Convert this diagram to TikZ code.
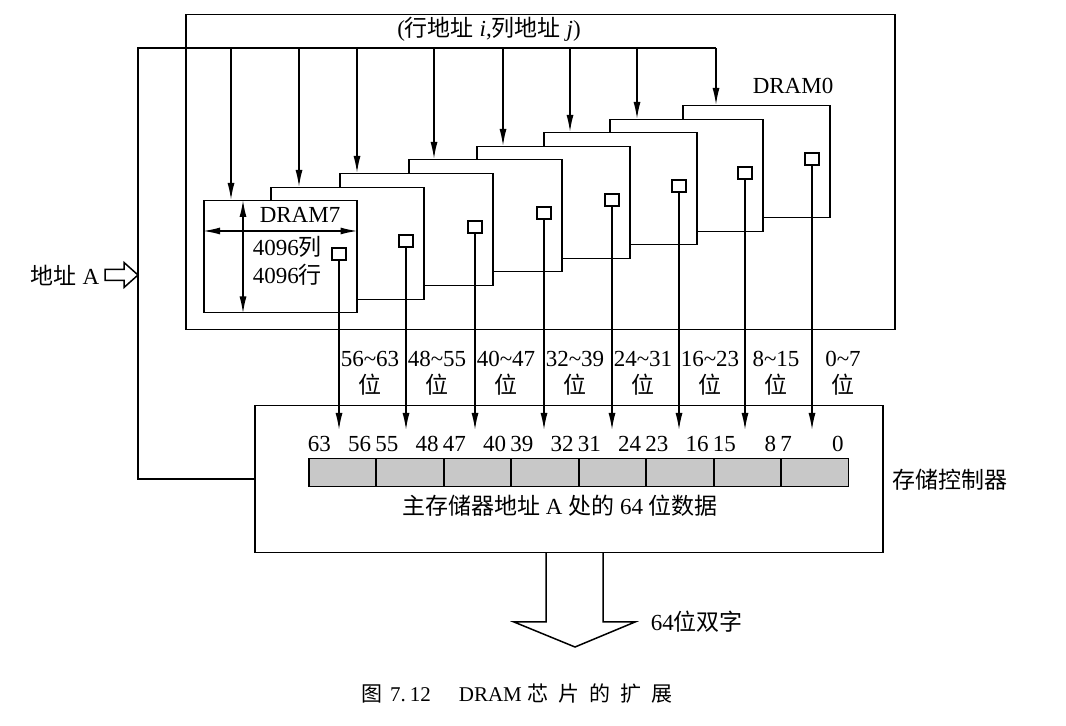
\documentclass[tikz,border=0pt]{standalone}
\usepackage{fontspec}
\setmainfont{Liberation Serif}
\newfontfamily\cjk{Noto Sans CJK SC}
\usetikzlibrary{arrows.meta}
\definecolor{cell-gray}{RGB}{200,200,200}
\tikzset{
    chip-box/.style = {draw, fill=white, rectangle, inner sep=0pt, anchor=north west, minimum height=56pt},
    pin-box/.style = {draw, fill=white, rectangle, inner sep=0pt, minimum width=7pt, minimum height=6pt},
    bit-cell/.style = {draw, fill=cell-gray, rectangle, inner sep=0pt, anchor=north west, minimum width=33.7pt, minimum height=14pt},
    frame-box/.style = {draw, rectangle, inner sep=0pt, anchor=north west},
    sig-arrow/.style = {-{Latex[length=8.5pt, width=3.5pt]}},
    both-arrow/.style = {{Latex[length=8.5pt, width=3.5pt]}-{Latex[length=8.5pt, width=3.5pt]}},
    plain-text/.style = {inner sep=0pt, font=\fontsize{11.5}{13.5}\selectfont},
}

\begin{document}
\begin{tikzpicture}[x=0.5pt, y=-0.5pt, line width=0.75pt]
\useasboundingbox (0,0) rectangle (1066,726);
\node[frame-box, minimum width=354.5pt, minimum height=157.5pt] (group) at (185,14) {};
\node[frame-box, minimum width=314pt, minimum height=73.5pt] (ctrl) at (254,405) {};
\coordinate (bus) at (138,48);
\coordinate (tip) at (0,430);
\node[plain-text] (index-label) at (489,29) {({\cjk 行地址}\ \textit{i},{\cjk 列地址}\ \textit{j})};
\foreach \k/\ax/\lx/\ty/\bw in {0/716/682/105/73.5,1/637/609/119/76.5,2/570/543/132/76.5,3/503/476/146/76.5,4/434/408/159/76.5,5/357/339/173/76.5,6/299/270/187/76.5,7/231/203/200/76.5} {
    \pgfmathtruncatemacro{\lo}{8*\k}
    \pgfmathtruncatemacro{\hi}{8*\k+7}
    \pgfmathsetmacro{\px}{\lx+2*\bw-17}
    \node[chip-box, minimum width=\bw pt] (dram\k) at (\lx,\ty) {};
    \node[pin-box] (pin\k) at (\px,\ty+54) {};
    \coordinate (tap\k) at (\ax,48);
    \draw[sig-arrow] (tap\k) -- (tap\k |- dram\k.north);
    \draw[sig-arrow] (pin\k.south) -- (pin\k.south |- tip);
    \node[plain-text, align=center] at (\px+31,373.5) {\lo\textasciitilde\hi\\{\cjk 位}};
}
\node[plain-text] (dram0-label) at (793,86) {DRAM0};
\draw[both-arrow] ([xshift=20pt]dram7.north west) -- ([xshift=20pt]dram7.south west);
\draw[both-arrow] ([yshift=-15.5pt]dram7.north west) -- ([yshift=-15.5pt]dram7.north east);
\node[plain-text, anchor=west] (dram7-label) at ([xshift=28pt, yshift=-7.5pt]dram7.north west) {DRAM7};
\node[plain-text, anchor=west] (col-label) at ([xshift=24.5pt, yshift=-23.5pt]dram7.north west) {4096{\cjk 列}};
\node[plain-text, anchor=west] (row-label) at ([xshift=24.5pt, yshift=-37.5pt]dram7.north west) {4096{\cjk 行}};
\foreach \c in {0,...,7} {
    \pgfmathtruncatemacro{\hi}{63-8*\c}
    \pgfmathtruncatemacro{\lo}{56-8*\c}
    \node[bit-cell] (cell\c) at (308+67.5*\c,458) {};
    \node[plain-text, anchor=base west] at ([xshift=-0.5pt, yshift=3pt]cell\c.north west) {\hi};
    \node[plain-text, anchor=base east] at ([xshift=-2.5pt, yshift=3pt]cell\c.north east) {\lo};
}
\node[plain-text] (word-label) at (560,506) {{\cjk 主存储器地址}~A~{\cjk 处的}~64~{\cjk 位数据}};
\node[plain-text, anchor=west] (ctrl-label) at (892,480) {\cjk 存储控制器};
\draw (ctrl.west) -| (bus) -- (tap0);
\node[plain-text, anchor=east] (addr) at (100,275) {{\cjk 地址}~A};
\draw ([xshift=2.5pt, yshift=2.75pt]addr.east) -- ++(19,0) -- ++(0,-7) -- ++(14,12.5) -- ++(-14,12.5) -- ++(0,-7) -- ++(-19,0) -- cycle;
\draw (546,552.5) -- (546,622) -- (514,622) -- (575,647) -- (635,622) -- (603,622) -- (603,552.5);
\node[plain-text, anchor=west] (out-label) at (650,622) {64{\cjk 位双字}};
\node[plain-text, font=\fontsize{10.5}{12}\selectfont] (caption) at (517,694) {{\cjk 图}\hspace{4pt}7.\hspace{2pt}12\hspace{14pt}DRAM\hspace{3pt}{\cjk 芯\hspace{5pt}片\hspace{5pt}的\hspace{5pt}扩\hspace{5pt}展}};
\end{tikzpicture}
\end{document}
